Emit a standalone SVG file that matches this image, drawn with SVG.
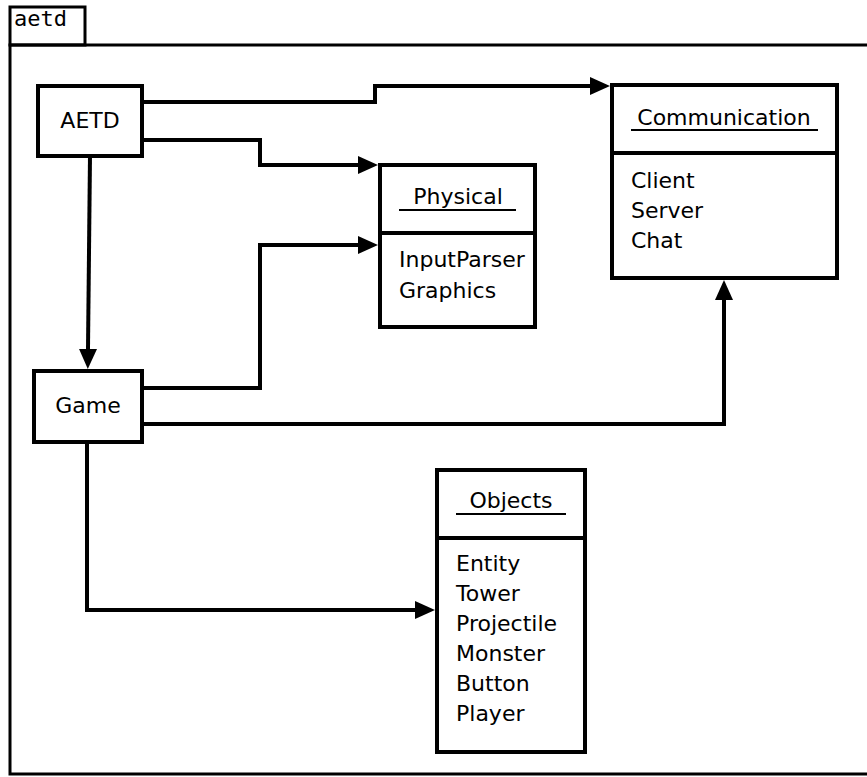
<svg xmlns="http://www.w3.org/2000/svg" width="867" height="777" viewBox="0 0 867 777">
<style>
.frame{fill:none;stroke:#000;stroke-width:3}
.box{fill:#fff;stroke:#000;stroke-width:4}
.t{font-family:"DejaVu Sans",sans-serif;font-size:22px;fill:#000}
.ul{stroke:#000;stroke-width:2}
.c{fill:none;stroke:#000;stroke-width:4}
</style>
<defs>
<marker id="a" viewBox="0 0 10 10" refX="0" refY="5" markerWidth="5" markerHeight="4.5" markerUnits="strokeWidth" orient="auto" preserveAspectRatio="none">
<path d="M0,0 L10,5 L0,10 z" fill="#000"/>
</marker>
</defs>
<rect width="867" height="777" fill="#fff"/>
<g id="package">
<path class="frame" d="M870,45 L10,45 L10,774 L870,774"/>
<rect class="frame" x="10" y="7" width="75" height="38"/>
<text x="14" y="26" style="font-family:'DejaVu Sans Mono',monospace;font-size:22px">aetd</text>
</g>
<g id="connectors">
<path class="c" d="M142,102 L375,102 L375,86 L590,86" marker-end="url(#a)"/>
<path class="c" d="M142,140 L260,140 L260,165 L358,165" marker-end="url(#a)"/>
<path class="c" d="M90,156 L88,349" marker-end="url(#a)"/>
<path class="c" d="M142,388 L260,388 L260,245 L358,245" marker-end="url(#a)"/>
<path class="c" d="M142,424 L724,424 L724,300" marker-end="url(#a)"/>
<path class="c" d="M87,442 L87,610 L415,610" marker-end="url(#a)"/>
</g>
<g id="AETD">
<rect class="box" x="38" y="86" width="104" height="70"/>
<text class="t" x="90" y="128" text-anchor="middle">AETD</text>
</g>
<g id="Game">
<rect class="box" x="34" y="371" width="108" height="71"/>
<text class="t" x="88" y="413" text-anchor="middle">Game</text>
</g>
<g id="Physical">
<rect class="box" x="380" y="165" width="155" height="162"/>
<line class="box" x1="380" y1="233" x2="535" y2="233"/>
<text class="t" x="458" y="204" text-anchor="middle">Physical</text>
<line class="ul" x1="399" y1="210" x2="516" y2="210"/>
<text class="t" x="399" y="267">InputParser</text>
<text class="t" x="399" y="298">Graphics</text>
</g>
<g id="Communication">
<rect class="box" x="612" y="85" width="225" height="193"/>
<line class="box" x1="612" y1="153" x2="837" y2="153"/>
<text class="t" x="724" y="125" text-anchor="middle">Communication</text>
<line class="ul" x1="631" y1="130" x2="818" y2="130"/>
<text class="t" x="631" y="188">Client</text>
<text class="t" x="631" y="218">Server</text>
<text class="t" x="631" y="248">Chat</text>
</g>
<g id="Objects">
<rect class="box" x="437" y="470" width="148" height="282"/>
<line class="box" x1="437" y1="538" x2="585" y2="538"/>
<text class="t" x="511" y="508" text-anchor="middle">Objects</text>
<line class="ul" x1="456" y1="514" x2="566" y2="514"/>
<text class="t" x="456" y="571">Entity</text>
<text class="t" x="456" y="601">Tower</text>
<text class="t" x="456" y="631">Projectile</text>
<text class="t" x="456" y="661">Monster</text>
<text class="t" x="456" y="691">Button</text>
<text class="t" x="456" y="721">Player</text>
</g>
</svg>
